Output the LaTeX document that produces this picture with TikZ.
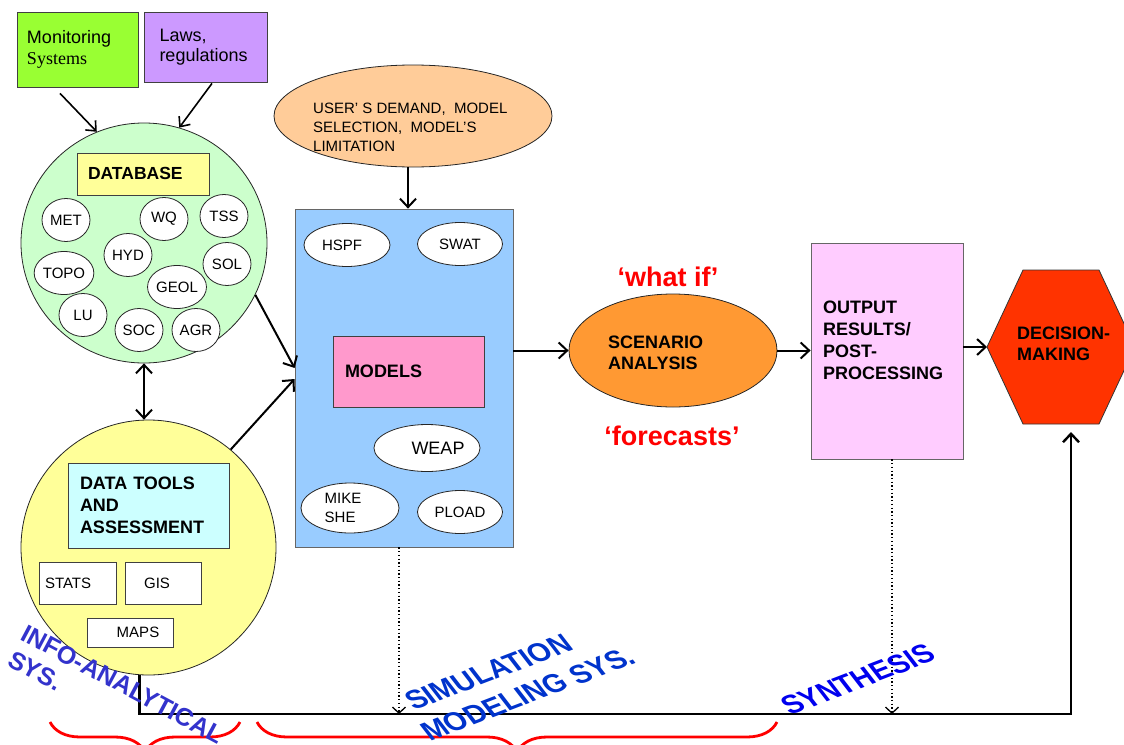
\documentclass[tikz,border=0pt]{standalone}
\usepackage{fontspec}
\setmainfont{Liberation Sans}
\newfontfamily\serifface{Liberation Serif}
\usetikzlibrary{arrows.meta,decorations.pathreplacing,calc,shapes.geometric}

\definecolor{mongreen}{HTML}{99FF33}
\definecolor{lawpurple}{HTML}{CC99FF}
\definecolor{dbgreen}{HTML}{CCFFCC}
\definecolor{paleyellow}{HTML}{FFFF99}
\definecolor{palecyan}{HTML}{CCFFFF}
\definecolor{peach}{HTML}{FFCC99}
\definecolor{skyblue}{HTML}{99CCFF}
\definecolor{modpink}{HTML}{FF99CC}
\definecolor{scenorange}{HTML}{FF9933}
\definecolor{lilac}{HTML}{FFCCFF}
\definecolor{decred}{HTML}{FF3300}
\definecolor{infoblue}{HTML}{3333CC}
\definecolor{simblue}{HTML}{0033CC}
\definecolor{synblue}{HTML}{0000EE}

\newcommand{\fs}[2]{\fontsize{#1}{#2}\selectfont}

\tikzset{
  box/.style={draw=black!75, line width=0.8pt, rectangle, inner sep=0pt},
  oval/.style={draw=black!85, line width=0.8pt, ellipse, inner sep=0pt},
  item/.style={oval, fill=white, minimum width=48pt, minimum height=43pt, font=\fs{15}{18}},
  mitem/.style={oval, fill=white, font=\fs{15}{18}},
  ibox/.style={box, fill=white, minimum height=42pt, font=\fs{15}{18}},
  bold18/.style={font=\bfseries\fs{18}{22}},
  barb/.tip={Straight Barb[length=8.5pt,width=16pt]},
  arr/.style={line width=2pt, -barb},
  thinarr/.style={line width=1.6pt, -{Straight Barb[length=8pt,width=14pt]}},
  dotarr/.style={line width=1.3pt, dash pattern=on 1.3pt off 2.4pt,
                 -{Straight Barb[length=6pt,width=13pt]}},
  redbrace/.style={draw=red, line width=2.8pt,
                   decorate, decoration={brace, mirror, amplitude=30pt}},
  tag/.style={font=\bfseries\fs{28}{32}, inner sep=0pt, anchor=base west},
}

\begin{document}
\begin{tikzpicture}[x=1pt,y=-1pt]
\useasboundingbox (0,0) rectangle (1124,744);

% ---- sources at the top left
\node[box, fill=mongreen, minimum width=121pt, minimum height=75pt,
      text width=101pt, inner xsep=10pt, align=left, font=\fs{18}{23}]
  (mon) at (77.5,49.5) {\raisebox{-2pt}{Monitoring}\\{\serifface Systems}};
\node[box, fill=lawpurple, minimum width=123pt, minimum height=70pt,
      text width=92pt, inner xsep=15.5pt, align=left, font=\fs{18}{23}]
  (laws) at (205.5,47) {\raisebox{-3pt}{Laws,}\\regulations};

% ---- database
\node[oval, fill=dbgreen, minimum width=246pt, minimum height=240pt] (green) at (144,243) {};
\node[box, fill=paleyellow, minimum width=132pt, minimum height=42pt,
      text width=110pt, inner xsep=11pt, align=left, font=\bfseries\fs{17.5}{20}]
  (db) at (143,174) {\raisebox{2pt}{DATABASE}};
\node[item] (met)  at (66,220)  {MET};
\node[item] (wq)   at (164,219) {WQ};
\node[item] (tss)  at (224,216) {TSS};
\node[item] (hyd)  at (128,255) {HYD};
\node[item] (topo) at (64,273)  {TOPO};
\node[item] (sol)  at (227,264) {SOL};
\node[item] (geol) at (177,287) {GEOL};
\node[item] (lu)   at (83,315)  {LU};
\node[item] (soc)  at (139,330) {SOC};
\node[item] (agr)  at (196,330) {AGR};

% ---- data tools
\node[oval, fill=paleyellow, minimum width=255pt, minimum height=255pt] (yel) at (148.5,547.5) {};
\node[box, fill=palecyan, minimum width=161pt, minimum height=85pt,
      text width=137pt, inner xsep=12pt, align=left, bold18]
  (dt) at (148.5,505.5) {DATA TOOLS\\AND\\ASSESSMENT};
\node[ibox, minimum width=77pt, text width=65pt, inner xsep=6pt, align=left]
  (stats) at (77.5,583) {\raisebox{-5pt}{STATS}};
\node[ibox, minimum width=76pt] (gis) at (163,583) {\hspace*{-12pt}\raisebox{-5pt}{GIS}};
\node[ibox, minimum width=86pt, minimum height=29pt] (maps) at (130,632.5) {\hspace*{16pt}MAPS};

% ---- models
\node[oval, fill=peach, minimum width=278pt, minimum height=102pt] (user) at (413,116) {};
\node[inner sep=0pt, anchor=west, align=left, font=\fs{15}{19}] (userT) at (313,127)
  {USER' S DEMAND,\ \ MODEL\\SELECTION,\ \ MODEL'S\\LIMITATION};
\node[box, draw=black!60, fill=skyblue, minimum width=218pt, minimum height=338pt] (models) at (404,378) {};
\node[mitem, minimum width=86pt, minimum height=43pt] (hspf) at (347,245) {\hspace*{-10pt}\raisebox{-6pt}{HSPF}};
\node[mitem, minimum width=85pt, minimum height=43pt] (swat) at (460,244) {SWAT};
\node[box, fill=modpink, minimum width=151pt, minimum height=71pt,
      text width=127pt, inner xsep=12pt, align=left, bold18]
  (modl) at (408.5,371.5) {\raisebox{-5pt}{MODELS}};
\node[mitem, minimum width=76pt, minimum height=47pt, font=\fs{18}{20}] (weap) at (427,448) {\hspace*{22pt}WEAP};
\node[mitem, minimum width=98pt, minimum height=50pt, align=left, font=\fs{15}{19}]
  (mike) at (350,508) {MIKE\hspace*{14pt}\\SHE};
\node[mitem, minimum width=85pt, minimum height=43pt] (pload) at (460,512) {PLOAD};

% ---- scenario analysis
\node[oval, fill=scenorange, minimum width=208pt, minimum height=113pt] (scen) at (673,350.5) {};
\node[inner sep=0pt, anchor=west, align=left, font=\bfseries\fs{18}{21}] (scenT) at (608,353)
  {SCENARIO\\ANALYSIS};
\node[inner sep=0pt, text=red, font=\bfseries\fs{27}{30}] (whatif) at (668,277) {‘what if’};
\node[inner sep=0pt, text=red, font=\bfseries\fs{27}{30}] (fcast) at (672,436) {‘forecasts’};

% ---- output and decision
\node[box, draw=black!60, fill=lilac, minimum width=152pt, minimum height=216pt] (out) at (887,351) {};
\node[inner sep=0pt, anchor=west, align=left, bold18] (outT) at (823,340)
  {OUTPUT\\RESULTS/\\POST-\\PROCESSING};
\coordinate (hexL) at (987,347);
\coordinate (decB) at (1071,424);
\draw[draw=black!80, line width=0.8pt, fill=decred]
  (1023,270) -- (1099,270) -- (1135,347) -- (1099,424) -- (1023,424) -- (hexL) -- cycle;
\node[inner sep=0pt, anchor=west, align=left, font=\bfseries\fs{18}{21}] (dec) at (1017,344)
  {DECISION-\\MAKING};

% ---- connectors
\draw[thinarr] ($(mon.south)+(-17.5,6)$) -- (green.113);
\draw[thinarr] ($(laws.south)+(6.5,1)$) -- (green.73);
\draw[arr, barb-barb] (green.south) -- (green.south |- yel.north);
\draw[arr] (green.-25) -- ([yshift=10pt]models.west);
\draw[arr] (yel.50) -- ([yshift=-1pt]models.west);
\draw[arr] ([xshift=-5pt]user.south) -- ([xshift=4pt]models.north);
\draw[arr] (scen.west -| models.east) -- (scen.west);
\draw[arr] (scen.east) -- (scen.east -| out.west);
\draw[arr] (out.east |- hexL) -- (hexL);

\coordinate (cornerR) at (1071,714);
\coordinate (mdot) at (399,714);
\coordinate (odot) at (892,714);
\draw[arr, line width=2.4pt, shorten >=8pt] (yel.-94) |- (cornerR) -- (decB);
\draw[dotarr] ([xshift=-5pt]models.south) -- (mdot);
\draw[dotarr] ([xshift=5pt]out.south) -- (odot);

% ---- braces under the baseline
\coordinate (b1L) at (50,722);
\coordinate (b1R) at (240,722);
\coordinate (b2L) at (257,722);
\coordinate (b2R) at (777,722);
\draw[redbrace] (b1L) -- (b1R);
\draw[redbrace] (b2L) -- (b2R);

% ---- stage labels
\node[tag, text=infoblue, font=\bfseries\fs{25}{28}, rotate=-28] (info1) at (19,639) {INFO-ANALYTICAL};
\node[tag, text=infoblue, font=\bfseries\fs{25}{28}, rotate=-28] (info2) at (6,665) {SYS.};
\node[tag, text=simblue, rotate=21, xslant=-0.3] (sim1) at (414,711) {SIMULATION};
\node[tag, text=simblue, rotate=21, xslant=-0.3] (sim2) at (430,742) {MODELING SYS.};
\node[tag, text=synblue, rotate=21, xslant=-0.3] (syn) at (790,716) {SYNTHESIS};
\end{tikzpicture}
\end{document}
